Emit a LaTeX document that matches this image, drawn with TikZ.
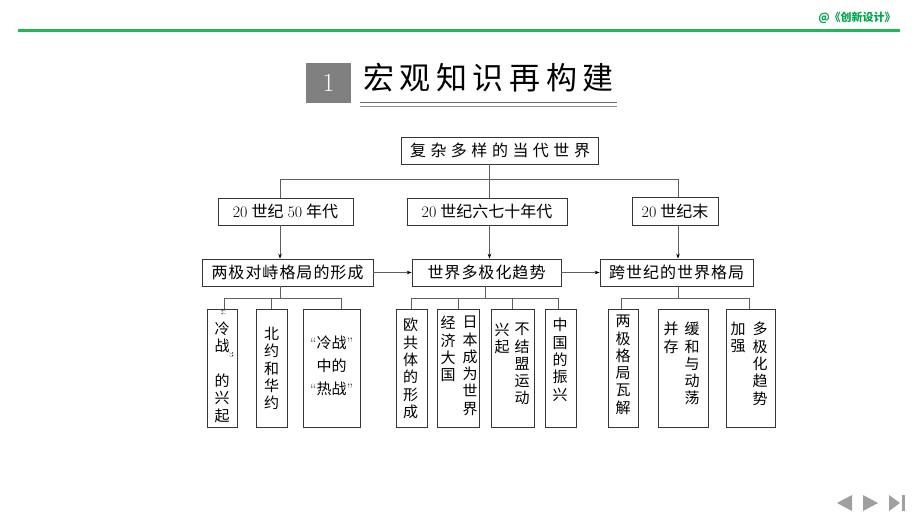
\documentclass[tikz,border=0pt]{standalone}
\usepackage{fontspec}
\newfontfamily\cjk{Noto Sans CJK SC}
\usetikzlibrary{arrows.meta}
\definecolor{hdrgreen}{RGB}{0,165,75}
\definecolor{linegreen}{RGB}{30,185,85}
\definecolor{navgrey}{RGB}{160,158,160}
\definecolor{boxline}{RGB}{55,55,55}
\definecolor{conn}{RGB}{95,95,95}
\definecolor{tbox}{RGB}{128,128,128}
\makeatletter
\newcommand\spaced[2]{\def\lsp@sep{}\@tfor\lsp@c:=#2\do{\lsp@sep\lsp@c\def\lsp@sep{\hspace{#1}}}}
\makeatother
\newcommand\dg[1]{{\normalfont #1}}
\newcommand\vq[1]{\makebox[0pt]{\raisebox{0pt}[5pt][0pt]{\rotatebox[origin=c]{-90}{\normalfont\fontsize{15}{15}\selectfont #1}}}}
\tikzset{
  x=1pt,y=-1pt,
  box/.style={draw=boxline,line width=0.8pt,inner sep=0pt,font=\cjk\fontsize{16}{18}\selectfont},
  vbox/.style={draw=boxline,line width=0.8pt,inner sep=0pt,minimum height=118pt},
  vt/.style={inner sep=0pt,align=center,font=\cjk\fontsize{15}{17.3}\selectfont},
  conn/.style={draw=conn,line width=0.7pt},
  arr/.style={draw=conn,line width=0.7pt,-{Stealth[length=5pt,width=3.6pt,black]}},
}
\begin{document}
\begin{tikzpicture}
\useasboundingbox (0,0) rectangle (920,518);
% header
\draw[linegreen,line width=2.4pt] (18,30.7) -- (900,30.7);
\node[text=hdrgreen,inner sep=0pt,font=\cjk\bfseries\fontsize{11}{12}\selectfont] (hdr) at (857,18) {@《创新设计》};
% title
\node[fill=tbox,minimum width=45pt,minimum height=40pt,inner sep=0pt,text=white,font=\normalfont\fontsize{26}{28}\selectfont] (num) at (328.5,83) {1};
\node[inner sep=0pt,font=\cjk\fontsize{31}{33}\selectfont] (title) at (488.5,78) {\spaced{5.5pt}{宏观知识再构建}};
\draw[black!60,line width=0.8pt] (360,102) -- (617,102);
\draw[black!45,line width=0.8pt] (360,106) -- (617,106);
% row 1
\node[box,minimum width=197pt,minimum height=27pt] (top) at (500,150.5) {\spaced{4.5pt}{复杂多样的当代世界}};
% row 2
\node[box,minimum width=135pt,minimum height=27pt] (r2a) at (285.5,211.5) {\dg{20}\hspace{4pt}世纪\hspace{4pt}\dg{50}\hspace{4pt}年代};
\node[box,minimum width=160pt,minimum height=27pt] (r2b) at (487,211.5) {\dg{20}\hspace{4pt}世纪六七十年代};
\node[box,minimum width=86pt,minimum height=28pt] (r2c) at (675,211) {\dg{20}\hspace{4pt}世纪末};
% row 3
\node[box,minimum width=171pt,minimum height=27pt] (r3a) at (287.5,272.5) {\spaced{1pt}{两极对峙格局的形成}};
\node[box,minimum width=149pt,minimum height=27pt] (r3b) at (486.5,272.5) {\spaced{1pt}{世界多极化趋势}};
\node[box,minimum width=153pt,minimum height=27pt] (r3c) at (676.5,272.5) {\spaced{1pt}{跨世纪的世界格局}};
% row 4 boxes
\node[vbox,minimum width=30pt] (c1) at (222,368) {};
\node[vbox,minimum width=31pt] (c2) at (271.5,368) {};
\node[vbox,minimum width=57pt] (c3) at (331.5,368) {};
\node[vbox,minimum width=31pt] (c4) at (411.5,368) {};
\node[vbox,minimum width=42pt] (c5) at (458,368) {};
\node[vbox,minimum width=43pt] (c6) at (512.5,368) {};
\node[vbox,minimum width=31pt] (c7) at (560.5,368) {};
\node[vbox,minimum width=30pt] (c8) at (623,368) {};
\node[vbox,minimum width=50pt] (c9) at (683,368) {};
\node[vbox,minimum width=49pt] (c10) at (750.5,368) {};
% row 4 texts
\node[vt,anchor=north] (t1) at (222,313) {\hspace{-3pt}\vq{“}\\[-1pt]冷\\战\\[-9pt]\hspace{12pt}\vq{”}\\[9pt]的\\兴\\起};
\node[vt,anchor=north] (t2) at (271.5,327) {北\\约\\和\\华\\约};
\node[vt,font=\cjk\fontsize{15}{23}\selectfont] (t3) at (331.5,366) {\dg{“}冷战\dg{”}\\中的\\\dg{“}热战\dg{”}};
\node[vt,anchor=north] (t4) at (410.5,318) {欧\\共\\体\\的\\形\\成};
\node[vt,anchor=north] (t5a) at (470,316) {日\\本\\成\\为\\世\\界};
\node[vt,anchor=north] (t5b) at (448,316) {经\\济\\大\\国};
\node[vt,anchor=north] (t6a) at (522,323) {不\\结\\盟\\运\\动};
\node[vt,anchor=north] (t6b) at (502,323) {兴\\起};
\node[vt,anchor=north] (t7) at (560,318) {中\\国\\的\\振\\兴};
\node[vt,anchor=north] (t8) at (623,315) {两\\极\\格\\局\\瓦\\解};
\node[vt,anchor=north] (t9a) at (692,322) {缓\\和\\与\\动\\荡};
\node[vt,anchor=north] (t9b) at (671,322) {并\\存};
\node[vt,anchor=north] (t10a) at (760,322) {多\\极\\化\\趋\\势};
\node[vt,anchor=north] (t10b) at (738,322) {加\\强};
% connectors level 1
\draw[conn] ([xshift=-10.5pt]top.south) -- ++(0,15) coordinate (j0);
\draw[conn] (j0) -| ([xshift=-5.5pt]r2a.north);
\draw[conn] (j0) -| ([xshift=3pt]r2c.north);
\draw[conn] (j0) -- (j0 |- r2b.north);
% arrows to row 3
\draw[arr] ([xshift=-5.5pt]r2a.south) coordinate (a1) -- (a1 |- r3a.north);
\draw[arr] ([xshift=2.5pt]r2b.south) coordinate (a2) -- (a2 |- r3b.north);
\draw[arr] ([xshift=3pt]r2c.south) coordinate (a3) -- (a3 |- r3c.north);
\draw[arr] (r3a) -- (r3b);
\draw[arr] (r3b) -- (r3c);
% row 4 trees
\draw[conn] ([xshift=-7.5pt]r3a.south) -- ++(0,12) coordinate (ja);
\draw[conn] ([xshift=2pt]c1.north) |- (ja);
\draw[conn] ([xshift=10pt]c3.north) |- (ja);
\draw[conn] (c2.north) -- (c2.north |- ja);
\draw[conn] ([xshift=-1.5pt]r3b.south) -- ++(0,12) coordinate (jb);
\draw[conn] (c4.north) |- (jb);
\draw[conn] ([xshift=-2.5pt]c7.north) |- (jb);
\draw[conn] (c5.north) -- (c5.north |- jb);
\draw[conn] (c6.north) -- (c6.north |- jb);
\draw[conn] ([xshift=1.5pt]r3c.south) -- ++(0,12) coordinate (jc);
\draw[conn] ([xshift=-2pt]c8.north) |- (jc);
\draw[conn] ([xshift=-1.5pt]c10.north) |- (jc);
% navigation
\fill[navgrey] (852,495) -- (852,511) -- (837,503) -- cycle;
\fill[navgrey] (863,495) -- (863,511) -- (878,503) -- cycle;
\fill[navgrey] (889,495) -- (889,511) -- (900,503) -- cycle;
\fill[navgrey] (902,495) rectangle (904.5,511);
\end{tikzpicture}
\end{document}
